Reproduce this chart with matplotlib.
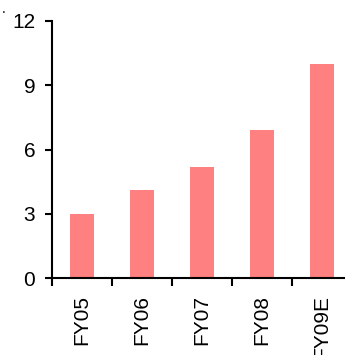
import matplotlib.pyplot as plt
import numpy as np

# 연도별 값
years = ['FY05', 'FY06', 'FY07', 'FY08', 'FY09E']
values = [3.0, 4.1, 5.2, 6.9, 10.0]
yticks = [0, 3, 6, 9, 12]

plt.rcParams['font.family'] = ['Liberation Sans', 'DejaVu Sans']

fig = plt.figure(figsize=(3.45, 3.55), dpi=100)
ax = fig.add_axes([52/345, 1 - 278/355, 300/345, 257/355])

x = np.arange(len(years))
ax.bar(x, values, width=0.4, color='#FF8080')

ax.set_xlim(-0.5, len(years) - 0.5)
ax.set_ylim(0, 12)
ax.set_yticks(yticks)
ax.set_yticklabels([str(v) for v in yticks], fontsize=15)

# 항목 경계에 눈금, 가운데에 라벨
ax.set_xticks(x)
ax.set_xticklabels(years, rotation=90, fontsize=15)
ax.set_xticks(np.arange(len(years) + 1) - 0.5, minor=True)
ax.tick_params(axis='x', which='major', length=0, pad=12)
ax.tick_params(axis='x', which='minor', length=6, width=1.5, direction='out')
ax.tick_params(axis='y', length=5, width=1.5, pad=7)

for side in ['top', 'right']:
    ax.spines[side].set_visible(False)
for side in ['left', 'bottom']:
    ax.spines[side].set_linewidth(1.5)

# 왼쪽 위 작은 점
fig.text(0.005, 0.975, '.', fontsize=10, ha='left', va='center')

fig.savefig('out.png', dpi=100)
